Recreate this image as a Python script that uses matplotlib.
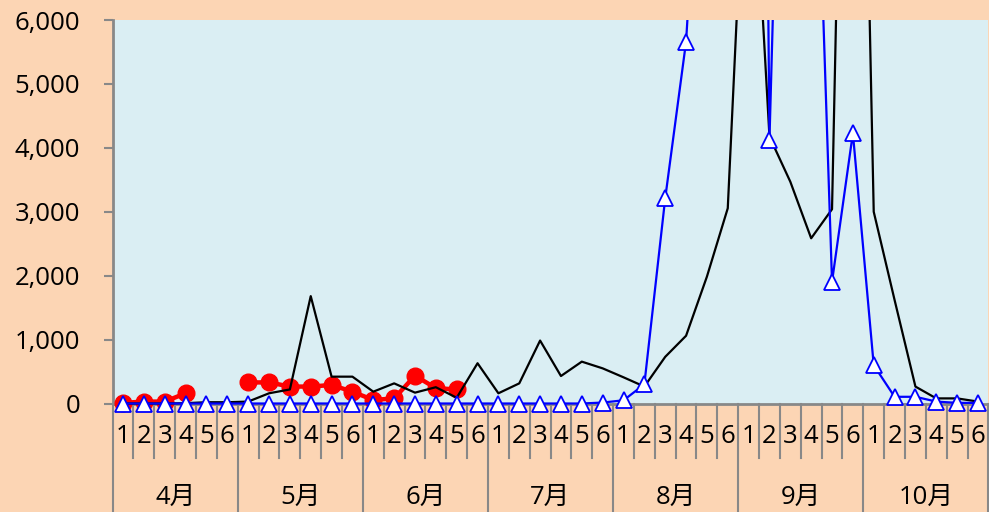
import numpy as np
import matplotlib
matplotlib.use('Agg')
import matplotlib.pyplot as plt
from matplotlib.patches import Rectangle
from matplotlib.ticker import FuncFormatter

plt.rcParams['font.family'] = ['Open Sans', 'Noto Sans CJK JP']

# 月と旬（1〜6）
months = ['4月', '5月', '6月', '7月', '8月', '9月', '10月']
periods = ['1', '2', '3', '4', '5', '6']

# 黒線
black_vals = [0, 0, 0, 5, 20, 20,
              30, 160, 220, 1680, 420, 420,
              185, 315, 170, 255, 90, 630,
              160, 315, 985, 430, 655, 550,
              410, 265, 730, 1060, 1985, 3055,
              10000, 4175, 3470, 2585, 3040, 18500,
              3000, 1620, 265, 80, 80, 30]
# 青線（三角）
blue_vals = [0, 0, 0, 0, 0, 0,
             0, 0, 0, 0, 0, 0,
             0, 0, 0, 0, 0, 0,
             0, 0, 0, 0, 0, 15,
             50, 300, 3210, 5660, 11000, 20000,
             40000, 4125, 16000, 11800, 1905, 4230,
             600, 105, 105, 30, 10, 10]
# 赤線（丸）
red_vals = [10, 30, 30, 160, np.nan, np.nan,
            330, 330, 265, 265, 290, 185,
            55, 80, 435, 240, 220]

fig = plt.figure(figsize=(9.89, 5.12), dpi=100, facecolor='#FCD5B4')
ax = fig.add_axes([0.1139, 0.2119, 0.8855, 0.749])
ax.set_facecolor('#DAEEF3')

x = np.arange(len(black_vals))
clip = Rectangle((0, -0.1), 1, 1.1, transform=ax.transAxes)

l_red, = ax.plot(x[:len(red_vals)], red_vals, color='#FF0000', lw=3.2, marker='o', ms=12, zorder=3)
l_black, = ax.plot(x, black_vals, color='black', lw=1.6, zorder=4)
l_blue, = ax.plot(x, blue_vals, color='#0000FF', lw=1.6, marker='^', ms=11.5,
                  mfc='white', mec='#0000FF', mew=1.3, zorder=5)
for ln in (l_red, l_black, l_blue):
    ln.set_clip_path(clip)

ax.set_xlim(-0.5, len(x) - 0.5)
ax.set_ylim(0, 6000)
ax.set_yticks(np.arange(0, 6001, 1000))
ax.yaxis.set_major_formatter(FuncFormatter(lambda v, p: f'{int(v):,}'))

for s in ('top', 'right'):
    ax.spines[s].set_visible(False)
for s in ('left', 'bottom'):
    ax.spines[s].set_color('#888888')
    ax.spines[s].set_linewidth(2)

ax.tick_params(axis='y', direction='out', length=6.5, width=1.5, color='#888888',
               pad=17, labelsize=18.5)
ax.set_xticks(x)
ax.set_xticklabels(periods * len(months))
ax.tick_params(axis='x', length=0, pad=15, labelsize=18.5)

# 区切り線
tr = ax.get_xaxis_transform()
for k in range(len(x) + 1):
    ybot = -0.283 if k % 6 == 0 else -0.142
    ax.plot([k - 0.5, k - 0.5], [0, ybot], transform=tr, color='#888888', lw=1.5, clip_on=False)

for m, name in enumerate(months):
    ax.text(6 * m + 2.5, -0.245, name, transform=tr, ha='center', va='center', fontsize=18.5)

fig.savefig('out.png', dpi=100, facecolor=fig.get_facecolor())
